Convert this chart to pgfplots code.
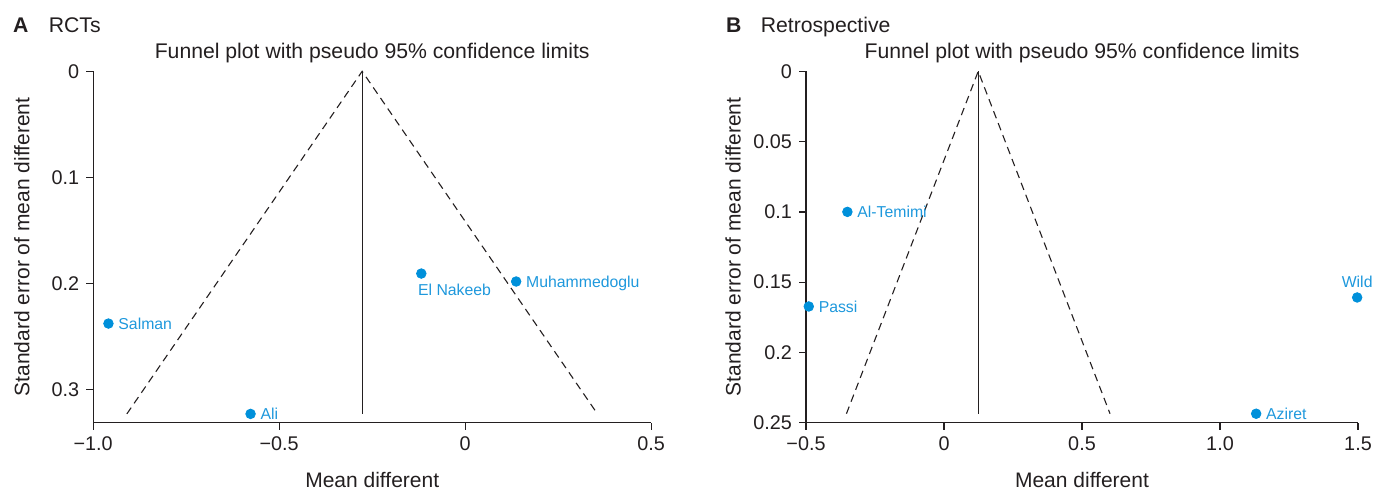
\documentclass[border=0pt]{standalone}
\usepackage{fontspec}
\setmainfont{Liberation Sans}
\usepackage{pgfplots}
\pgfplotsset{compat=1.18}
\definecolor{ink}{HTML}{231F20}
\definecolor{dot}{HTML}{0090DA}
\definecolor{lbl}{HTML}{1E98DC}

\pgfplotsset{
  funnel/.style={
    scale only axis, width=279pt, height=175.7pt,
    y dir=reverse, enlargelimits=false, clip=false,
    axis x line*=bottom, axis y line*=left,
    axis line style={ink, line width=0.65pt},
    tick style={ink, line width=0.65pt},
    major tick length=3.5pt, tick align=outside,
    tick label style={ink, font=\fontsize{9.9}{11}\selectfont},
    title style={at={(0.5,1)}, anchor=base, inner sep=0pt, yshift=0.6pt, ink,
      font=\fontsize{10.6}{12}\selectfont},
    xlabel style={at={(axis description cs:0.5,-0.184)}, anchor=base, inner sep=0pt, ink,
      font=\fontsize{10.5}{12}\selectfont},
    ylabel style={anchor=center, ink, font=\fontsize{10.5}{12}\selectfont},
    title={Funnel plot with pseudo 95\% confidence limits},
    xlabel={Mean different},
    ylabel={Standard error of mean different},
  },
  pts/.style={only marks, mark=*, mark size=2.4pt, color=dot,
    nodes near coords, point meta=explicit symbolic,
    nodes near coords style={inner sep=0pt, lbl, font=\fontsize{7.9}{9}\selectfont}},
  lblright/.style={nodes near coords style={anchor=base west, xshift=4.8pt, yshift=-2.9pt}},
  lblbelow/.style={nodes near coords style={anchor=base west, xshift=-1.8pt, yshift=-11.2pt}},
  lblabove/.style={nodes near coords style={anchor=base, yshift=4.9pt}},
  ci/.style={ink, line width=0.55pt, dash pattern=on 3.8pt off 2.6pt},
  mid/.style={ink, line width=0.6pt},
}

\begin{document}
\begin{tikzpicture}
\useasboundingbox (0,0) rectangle (696pt,247pt);

\node[anchor=base west, inner sep=0pt, ink, font=\bfseries\fontsize{10.6}{12}\selectfont] at (6.3pt,230.8pt) {A};
\node[anchor=base west, inner sep=0pt, ink, font=\fontsize{10.6}{12}\selectfont] at (24.2pt,230.8pt) {RCTs};
\node[anchor=base west, inner sep=0pt, ink, font=\bfseries\fontsize{10.6}{12}\selectfont] at (362.8pt,230.8pt) {B};
\node[anchor=base west, inner sep=0pt, ink, font=\fontsize{10.6}{12}\selectfont] at (380.2pt,230.8pt) {Retrospective};

% A: RCTs
\begin{axis}[funnel,
  at={(46.6pt,35.65pt)}, anchor=south west,
  xmin=-1, xmax=0.5, ymin=0, ymax=0.331,
  xtick={-1,-0.5,0,0.5}, xticklabels={−1.0,−0.5,0,0.5},
  ytick={0,0.1,0.2,0.3}, yticklabels={0,0.1,0.2,0.3},
  ylabel style={at={(axis description cs:-0.128,0.5)}},
]
\addplot[ci] coordinates {(-0.9095,0.3227) (-0.277,0) (0.3555,0.3227)};
\addplot[mid] coordinates {(-0.277,0) (-0.277,0.3227)};
\addplot[pts, lblright] table[col sep=comma, meta=name] {
x,y,name
-0.959,0.2376,Salman
-0.577,0.3227,Ali
0.137,0.1980,Muhammedoglu
};
\addplot[pts, lblbelow] table[col sep=comma, meta=name] {
x,y,name
-0.118,0.1905,El Nakeeb
};
\end{axis}

% B: Retrospective
\begin{axis}[funnel,
  at={(403pt,35.65pt)}, anchor=south west, width=276pt,
  xmin=-0.5, xmax=1.5, ymin=0, ymax=0.25,
  xtick={-0.5,0,0.5,1,1.5}, xticklabels={−0.5,0,0.5,1.0,1.5},
  ytick={0,0.05,0.1,0.15,0.2,0.25}, yticklabels={0,0.05,0.1,0.15,0.2,0.25},
  ylabel style={at={(axis description cs:-0.132,0.5)}},
]
\addplot[ci] coordinates {(-0.3535,0.2436) (0.124,0) (0.6015,0.2436)};
\addplot[mid] coordinates {(0.124,0) (0.124,0.2436)};
\addplot[pts, lblright] table[col sep=comma, meta=name] {
x,y,name
-0.350,0.1000,Al-Temimi
-0.490,0.1673,Passi
1.131,0.2436,Aziret
};
\addplot[pts, lblabove] table[col sep=comma, meta=name] {
x,y,name
1.497,0.1609,Wild
};
\end{axis}
\end{tikzpicture}
\end{document}
